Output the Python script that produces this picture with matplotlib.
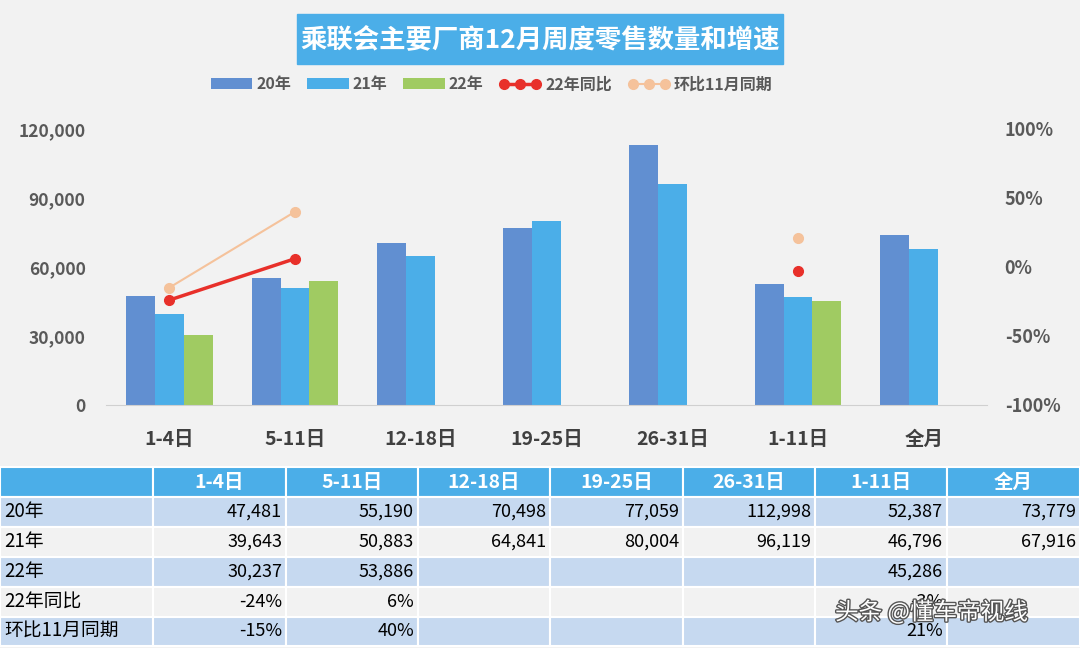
import numpy as np
import matplotlib.pyplot as plt
import matplotlib.patheffects as pe
from matplotlib.patches import Rectangle

plt.rcParams['font.family'] = ['Noto Sans CJK SC', 'DejaVu Sans']

# data
categories = ['1-4日', '5-11日', '12-18日', '19-25日', '26-31日', '1-11日', '全月']
sales_20 = [47481, 55190, 70498, 77059, 112998, 52387, 73779]
sales_21 = [39643, 50883, 64841, 80004, 96119, 46796, 67916]
sales_22 = [30237, 53886, None, None, None, 45286, None]
yoy_22 = [-24, 6, None, None, None, -3, None]
mom_nov = [-15, 40, None, None, None, 21, None]

row_names = ['20年', '21年', '22年', '22年同比', '环比11月同期']

C20 = '#618fd1'
C21 = '#4baee8'
C22 = '#a0cb62'
CRED = '#e8302a'
CORG = '#f5c29b'
BG = '#f2f2f2'
TXT = '#595959'


def to_arr(vals):
    return np.array([np.nan if v is None else v for v in vals], dtype=float)


fig = plt.figure(figsize=(10.8, 6.48), dpi=100)
fig.patch.set_facecolor(BG)

ax = fig.add_axes([0.0985, 0.375, 0.815, 0.426])
ax.set_facecolor(BG)
x = np.arange(len(categories))
w = 0.23
ax.bar(x - w, to_arr(sales_20), w, color=C20, label='20年')
ax.bar(x, to_arr(sales_21), w, color=C21, label='21年')
ax.bar(x + w, to_arr(sales_22), w, color=C22, label='22年')
ax.set_xlim(-0.5, len(categories) - 0.5)
ax.set_ylim(0, 120000)
ax.set_yticks([0, 30000, 60000, 90000, 120000])
ax.set_yticklabels([f'{v:,}' for v in [0, 30000, 60000, 90000, 120000]])
ax.set_xticks(x)
ax.set_xticklabels(categories)
for s in ['top', 'right', 'left']:
    ax.spines[s].set_visible(False)
ax.spines['bottom'].set_color('#d0d0d0')
ax.tick_params(axis='both', length=0, labelsize=12.5, labelcolor=TXT)
ax.tick_params(axis='x', pad=18, labelsize=14, labelcolor='#404040')
ax.tick_params(axis='y', pad=15)
for lab in ax.get_xticklabels() + ax.get_yticklabels():
    lab.set_fontweight('bold')

ax2 = ax.twinx()
ax2.plot(x, to_arr(yoy_22), color=CRED, lw=2.5, marker='o', ms=7, label='22年同比')
ax2.plot(x, to_arr(mom_nov), color=CORG, lw=1.5, marker='o', ms=7, label='环比11月同期')
ax2.set_ylim(-100, 100)
ax2.set_yticks([-100, -50, 0, 50, 100])
ax2.set_yticklabels(['-100%', '-50%', '0%', '50%', '100%'])
for s in ['top', 'right', 'left', 'bottom']:
    ax2.spines[s].set_visible(False)
ax2.tick_params(axis='y', length=0, labelsize=13, labelcolor=TXT, pad=13)
for lab in ax2.get_yticklabels():
    lab.set_fontweight('bold')

h1, l1 = ax.get_legend_handles_labels()
h2, l2 = ax2.get_legend_handles_labels()
leg = fig.legend(h1 + h2, l1 + l2, loc='center', bbox_to_anchor=(0.455, 0.87), ncol=5,
                 frameon=False, numpoints=3, handlelength=2.6, columnspacing=1.0,
                 handletextpad=0.25, prop={'weight': 'bold', 'size': 11.5})
for t in leg.get_texts():
    t.set_color(TXT)

# overlay in pixel coords: title box and table
ov = fig.add_axes([0, 0, 1, 1])
ov.set_xlim(0, 1080)
ov.set_ylim(648, 0)
ov.axis('off')
ov.patch.set_visible(False)

ov.add_patch(Rectangle((297, 14), 486, 50, color=C21))
ov.text(540, 40, '乘联会主要厂商12月周度零售数量和增速', ha='center', va='center',
        color='white', fontsize=19, fontweight='bold')

col_edges = [0, 153, 286, 418, 550, 683, 815, 947, 1080]
row_edges = [467, 497, 527, 557, 587, 617, 646]
row_colors = ['#c6d9f0', BG, '#c6d9f0', BG, '#c6d9f0']

for j in range(len(categories) + 1):
    x0, x1 = col_edges[j], col_edges[j + 1]
    ov.add_patch(Rectangle((x0, row_edges[0]), x1 - x0, row_edges[1] - row_edges[0],
                           facecolor=C21, edgecolor='white', lw=1.5))
    if j > 0:
        ov.text((x0 + x1) / 2, (row_edges[0] + row_edges[1]) / 2, categories[j - 1],
                ha='center', va='center', color='white', fontsize=14, fontweight='bold')

table_rows = [
    [f'{v:,}' if v is not None else '' for v in sales_20],
    [f'{v:,}' if v is not None else '' for v in sales_21],
    [f'{v:,}' if v is not None else '' for v in sales_22],
    [f'{v}%' if v is not None else '' for v in yoy_22],
    [f'{v}%' if v is not None else '' for v in mom_nov],
]

for i, name in enumerate(row_names):
    y0, y1 = row_edges[i + 1], row_edges[i + 2]
    yc = (y0 + y1) / 2
    for j in range(len(categories) + 1):
        x0, x1 = col_edges[j], col_edges[j + 1]
        ov.add_patch(Rectangle((x0, y0), x1 - x0, y1 - y0,
                               facecolor=row_colors[i], edgecolor='white', lw=1.5))
    ov.text(4, yc, name, ha='left', va='center', color='black', fontsize=13.5)
    for j, s in enumerate(table_rows[i]):
        ov.text(col_edges[j + 2] - 4, yc, s, ha='right', va='center', color='black',
                fontsize=13)

# watermark, overlaps the 1-11日 cells as in the source image
ov.text(835, 612, '头条 @懂车帝视线', ha='left', va='center', color='white', fontsize=17,
        path_effects=[pe.withStroke(linewidth=2, foreground='#555555')])

fig.savefig('out.png', dpi=100, facecolor=BG)
